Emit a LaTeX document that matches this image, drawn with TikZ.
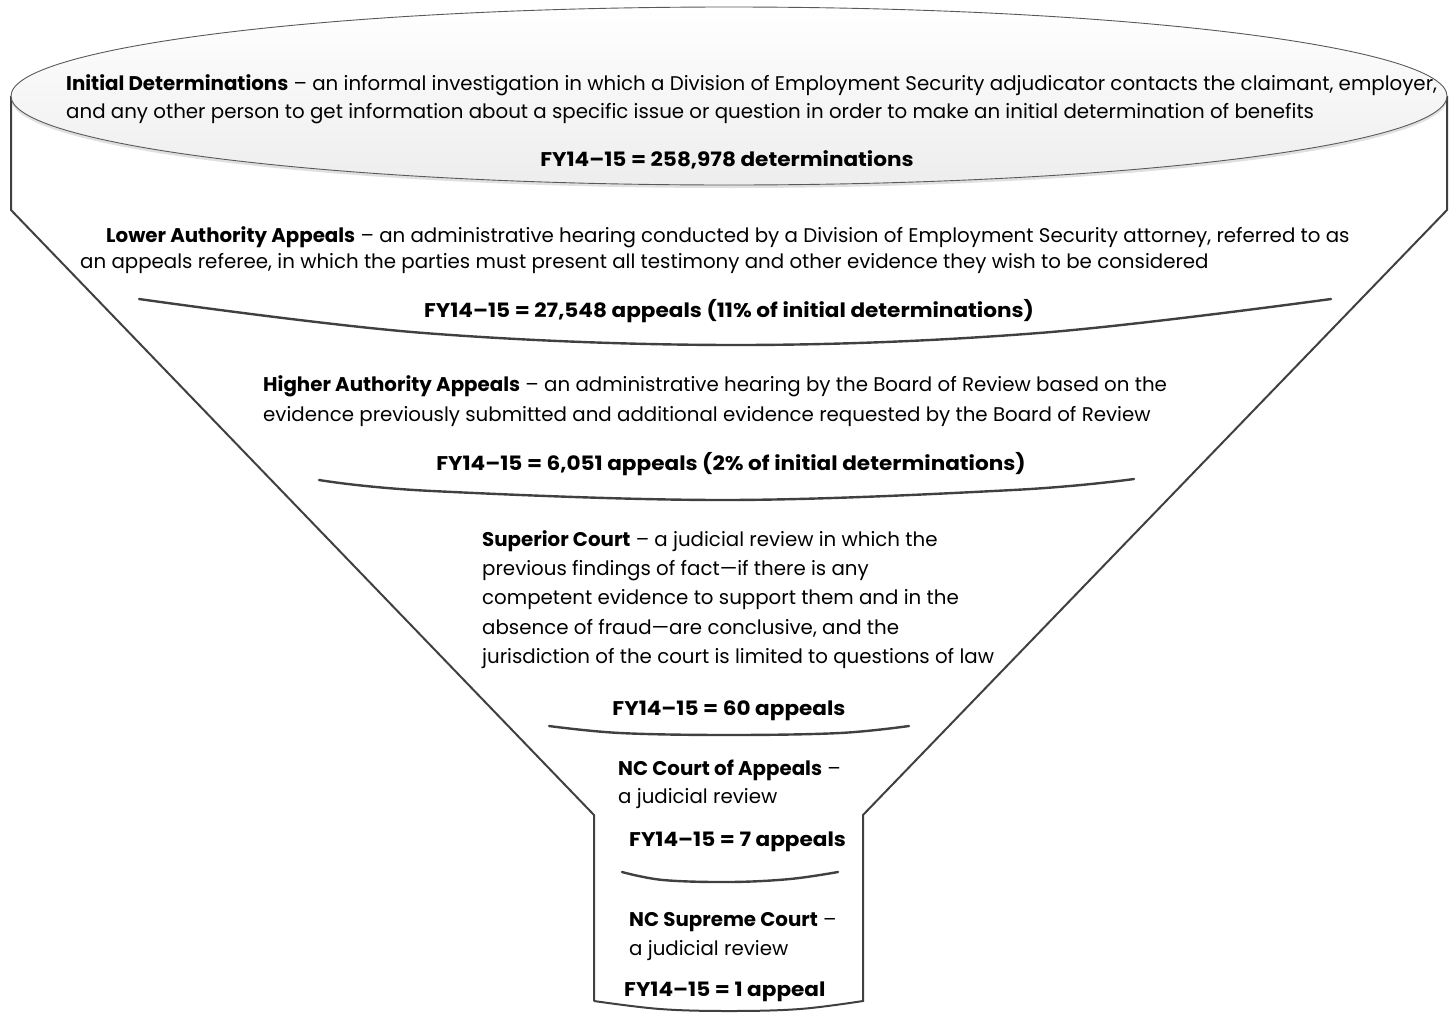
\documentclass[tikz,border=0pt]{standalone}
\usepackage{fontspec}
\setmainfont{Poppins}[BoldFeatures={FakeStretch=1.09}]
\newfontfamily\headfam{Poppins}
\newcommand{\hd}[1]{{\headfam\bfseries #1}}
\usetikzlibrary{shadows}
\definecolor{edgegray}{HTML}{404040}
\definecolor{ellgray}{HTML}{595959}
\begin{document}
\begin{tikzpicture}[x=1pt,y=-1pt,
  funnel/.style={draw=edgegray, line width=2pt, line join=miter},
  divider/.style={draw=edgegray, line width=2.4pt, line cap=round},
  txt/.style={anchor=base west, inner sep=0pt, font=\fontsize{19.8}{23}\selectfont},
  fy/.style={anchor=base, inner sep=0pt, font=\fontsize{19.8}{23}\selectfont\bfseries},
  fyl/.style={anchor=base west, inner sep=0pt, font=\fontsize{19.8}{23}\selectfont\bfseries}]
\useasboundingbox (0,0) rectangle (1453,1012);
% funnel outline
\draw[funnel] (11,96) -- (11,210) -- (594,815) -- (594,1001)
  plot[smooth, tension=0.6] coordinates {(594,1001) (660,1009) (729,1011) (800,1009) (863,1001)}
  -- (863,815) -- (1447,210) -- (1447,96);
% top ellipse
\fill[black, opacity=0.12] (729,99) ellipse [x radius=718pt, y radius=89pt];
\draw[draw=ellgray, line width=0.9pt, top color=white, bottom color=gray!14]
  (729,96) ellipse [x radius=718pt, y radius=89pt];
% dividers
\draw[divider] plot[smooth, tension=0.6] coordinates {(139,299) (424,333) (736,345) (1039,333) (1331,299)};
\draw[divider] plot[smooth, tension=0.6] coordinates {(319,480) (432,491) (727,500) (1013,490) (1134,479)};
\draw[divider] plot[smooth, tension=0.6] coordinates {(549,726) (620,733) (729,735) (840,733) (909,726)};
\draw[divider] plot[smooth, tension=0.6] coordinates {(622,872) (663,880) (730,882) (790,879) (838,872)};
% level 1
\node[txt] (l1a) at (66,90) {\hd{Initial Determinations} – an informal investigation in which a Division of Employment Security adjudicator contacts the claimant, employer,};
\node[txt] (l1b) at (66,118) {and any other person to get information about a specific issue or question in order to make an initial determination of benefits};
\node[fy] (f1) at (727,166) {FY14–15 = 258,978 determinations};
% level 2
\node[txt] (l2a) at (106,242) {\hd{Lower Authority Appeals} – an administrative hearing conducted by a Division of Employment Security attorney, referred to as};
\node[txt] (l2b) at (80,268) {an appeals referee, in which the parties must present all testimony and other evidence they wish to be considered};
\node[fy] (f2) at (729,317) {FY14–15 = 27,548 appeals (11\% of initial determinations)};
% level 3
\node[txt] (l3a) at (263,391) {\hd{Higher Authority Appeals} – an administrative hearing by the Board of Review based on the};
\node[txt] (l3b) at (263,421) {evidence previously submitted and additional evidence requested by the Board of Review};
\node[fy] (f3) at (731,470) {FY14–15 = 6,051 appeals (2\% of initial determinations)};
% level 4
\node[txt] (l4a) at (482,546) {\hd{Superior Court} – a judicial review in which the};
\node[txt] (l4b) at (482,575) {previous findings of fact—if there is any};
\node[txt] (l4c) at (482,604) {competent evidence to support them and in the};
\node[txt] (l4d) at (482,634) {absence of fraud—are conclusive, and the};
\node[txt] (l4e) at (482,663) {jurisdiction of the court is limited to questions of law};
\node[fy] (f4) at (729,715) {FY14–15 = 60 appeals};
% level 5
\node[txt] (l5a) at (618,775) {\hd{NC Court of Appeals} –};
\node[txt] (l5b) at (618,803) {a judicial review};
\node[fyl] (f5) at (629,846) {FY14–15 = 7 appeals};
% level 6
\node[txt] (l6a) at (629,926) {\hd{NC Supreme Court} –};
\node[txt] (l6b) at (629,955) {a judicial review};
\node[fyl] (f6) at (624,996) {FY14–15 = 1 appeal};
\end{tikzpicture}
\end{document}
